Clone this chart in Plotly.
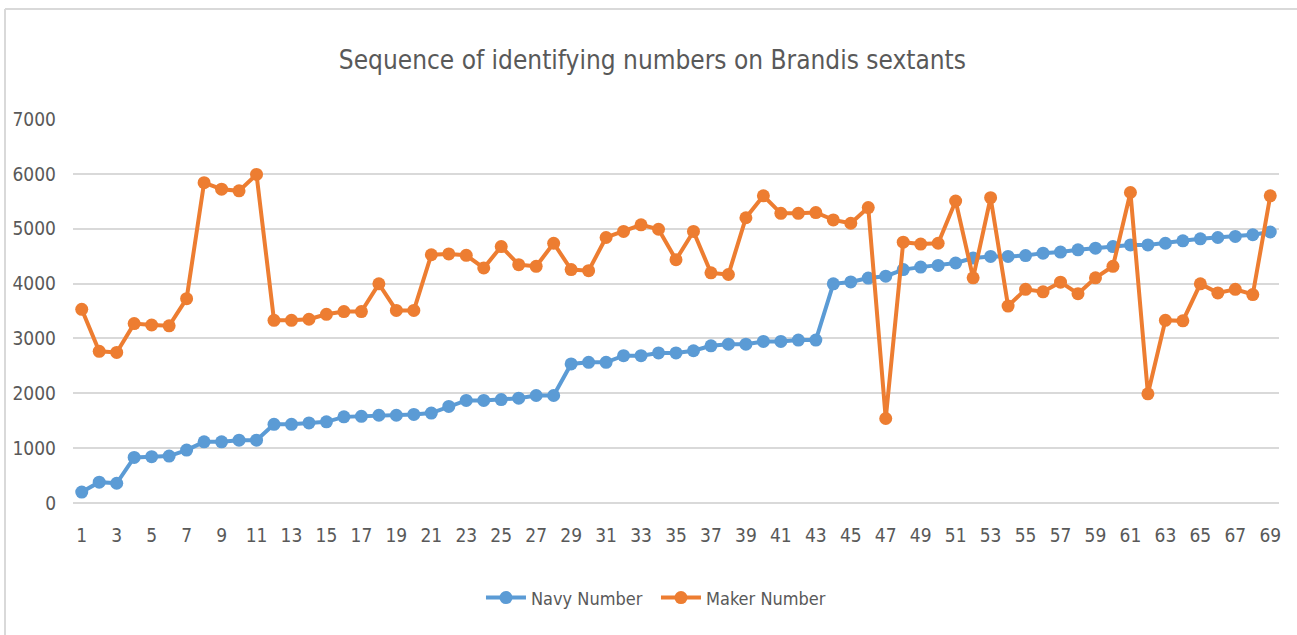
import plotly.graph_objects as go

index = list(range(1, 70))

navy_number = [
    200, 380, 360, 830, 845, 855, 965, 1115, 1115, 1145,
    1145, 1435, 1435, 1460, 1480, 1570, 1580, 1600, 1600, 1615,
    1640, 1760, 1870, 1870, 1885, 1910, 1960, 1960, 2535, 2565,
    2565, 2685, 2685, 2735, 2735, 2775, 2865, 2895, 2895, 2945,
    2945, 2970, 2970, 3995, 4030, 4100, 4135, 4255, 4300, 4330,
    4375, 4465, 4495, 4495, 4510, 4555, 4575, 4615, 4645, 4675,
    4705, 4705, 4735, 4780, 4815, 4840, 4860, 4890, 4940,
]

maker_number = [
    3530, 2765, 2745, 3270, 3245, 3230, 3725, 5840, 5720, 5690,
    5990, 3330, 3330, 3350, 3440, 3490, 3490, 3995, 3510, 3510,
    4525, 4540, 4515, 4285, 4675, 4345, 4315, 4735, 4255, 4235,
    4840, 4950, 5070, 4990, 4435, 4950, 4195, 4165, 5200, 5600,
    5280, 5280, 5295, 5160, 5100, 5385, 1540, 4755, 4720, 4735,
    5505, 4105, 5565, 3590, 3895, 3850, 4025, 3815, 4105, 4315,
    5660, 1990, 3330, 3320, 3995, 3830, 3895, 3800, 5600,
]

x_tick_labels = [str(i) for i in range(1, 70, 2)]

font_family = "DejaVu Sans Condensed, Liberation Sans Narrow, Lato, sans-serif"
grey_text = "#595959"

fig = go.Figure()
fig.add_trace(go.Scatter(
    x=index, y=navy_number, name="Navy Number", mode="lines+markers",
    line=dict(color="#5B9BD5", width=4),
    marker=dict(color="#5B9BD5", size=13, symbol="circle"),
))
fig.add_trace(go.Scatter(
    x=index, y=maker_number, name="Maker Number", mode="lines+markers",
    line=dict(color="#ED7D31", width=4),
    marker=dict(color="#ED7D31", size=13, symbol="circle"),
))

fig.update_layout(
    width=1297, height=635,
    margin=dict(l=73, r=18, t=119, b=132),
    paper_bgcolor="white", plot_bgcolor="white",
    font=dict(family=font_family, color=grey_text, size=19),
    title=dict(
        text="Sequence of identifying numbers on Brandis sextants",
        x=0.503, xanchor="center", y=1 - 60 / 635, yanchor="middle",
        font=dict(family=font_family, size=26, color=grey_text),
    ),
    showlegend=True,
    legend=dict(
        orientation="h", x=0.4834, xanchor="center",
        y=-0.247, yanchor="middle",
        font=dict(family=font_family, size=18, color=grey_text),
        itemwidth=40, traceorder="normal", entrywidth=120,
    ),
    xaxis=dict(
        range=[0.5, 69.5], tickmode="array",
        tickvals=list(range(1, 70, 2)), ticktext=x_tick_labels,
        showgrid=False, zeroline=False, showline=False,
        ticks="", ticklabelstandoff=19,
        tickfont=dict(family=font_family, size=19, color=grey_text),
    ),
    yaxis=dict(
        range=[0, 7000], tickmode="array",
        tickvals=[0, 1000, 2000, 3000, 4000, 5000, 6000, 7000],
        showgrid=True, gridcolor="#D9D9D9", gridwidth=1.5,
        zeroline=True, zerolinecolor="#D9D9D9", zerolinewidth=1.5,
        showline=False, ticks="", ticklabelstandoff=16,
        tickfont=dict(family=font_family, size=19, color=grey_text),
    ),
    shapes=[
        dict(type="line", xref="paper", yref="paper",
             x0=(5 - 73) / 1206, x1=(1297 - 73) / 1206,
             y0=(503 - 9) / 384, y1=(503 - 9) / 384,
             line=dict(color="#D9D9D9", width=2)),
        dict(type="line", xref="paper", yref="paper",
             x0=(5 - 73) / 1206, x1=(5 - 73) / 1206,
             y0=(503 - 9) / 384, y1=(503 - 640) / 384,
             line=dict(color="#D9D9D9", width=2)),
    ],
)

fig.write_html(
    "out.html",
    config={"displayModeBar": False},
    post_script="document.body.style.margin='0';",
)
